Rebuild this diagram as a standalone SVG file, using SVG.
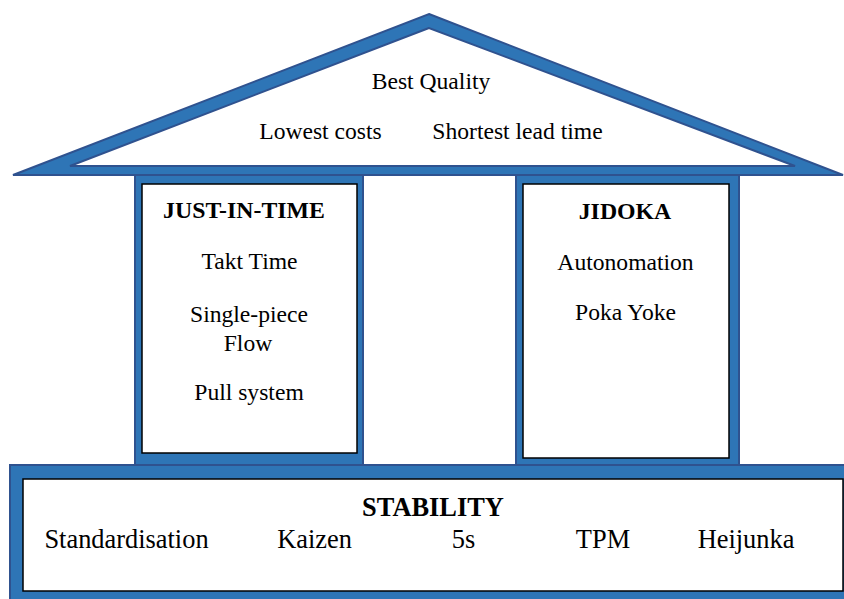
<svg xmlns="http://www.w3.org/2000/svg" width="844" height="599" viewBox="0 0 844 599">
<style>
.blue{fill:#2E75B6;stroke:#2F528F;stroke-width:2}
.box{fill:#fff;stroke:#000;stroke-width:1.5}
text{font-family:"Liberation Serif","Times New Roman",Times,Tinos,"DejaVu Serif",serif;fill:#000;text-anchor:middle;font-style:normal}
.t{font-size:23.6px;font-weight:400}
.b{font-size:23.8px;font-weight:700}
.s{font-size:26.4px;font-weight:400}
.sb{font-size:26.4px;font-weight:700}
</style>
<rect width="844" height="599" fill="#fff"/>
<g id="pillar-jit">
<rect class="blue" x="135" y="172" width="228" height="295"/>
<rect class="box" x="142" y="184" width="215" height="269"/>
<text class="b" x="244" y="218">JUST-IN-TIME</text>
<text class="t" x="249.5" y="269">Takt Time</text>
<text class="t" x="249" y="322">Single-piece</text>
<text class="t" x="248" y="351">Flow</text>
<text class="t" x="249" y="400">Pull system</text>
</g>
<g id="pillar-jidoka">
<rect class="blue" x="516" y="172" width="223" height="295"/>
<rect class="box" x="523" y="184" width="206" height="274"/>
<text class="b" x="625" y="218.5">JIDOKA</text>
<text class="t" x="625.5" y="269.5">Autonomation</text>
<text class="t" x="625.5" y="320">Poka Yoke</text>
</g>
<g id="roof">
<path class="blue" fill-rule="evenodd" d="M429,14 L843,175 L13,175 Z M429,28 L70,166 L795,166 Z"/>
<text class="t" x="431" y="89">Best Quality</text>
<text class="t" x="320.5" y="139">Lowest costs</text>
<text class="t" x="517.5" y="139">Shortest lead time</text>
</g>
<g id="base">
<rect class="blue" x="10" y="465" width="850" height="150"/>
<rect class="box" x="23" y="479" width="820" height="112"/>
<text class="sb" x="433" y="516">STABILITY</text>
<text class="s" x="126.5" y="548">Standardisation</text>
<text class="s" x="314.5" y="548">Kaizen</text>
<text class="s" x="463.5" y="548">5s</text>
<text class="s" x="603" y="548">TPM</text>
<text class="s" x="746" y="548">Heijunka</text>
</g>
<g id="connectors"></g>
</svg>
